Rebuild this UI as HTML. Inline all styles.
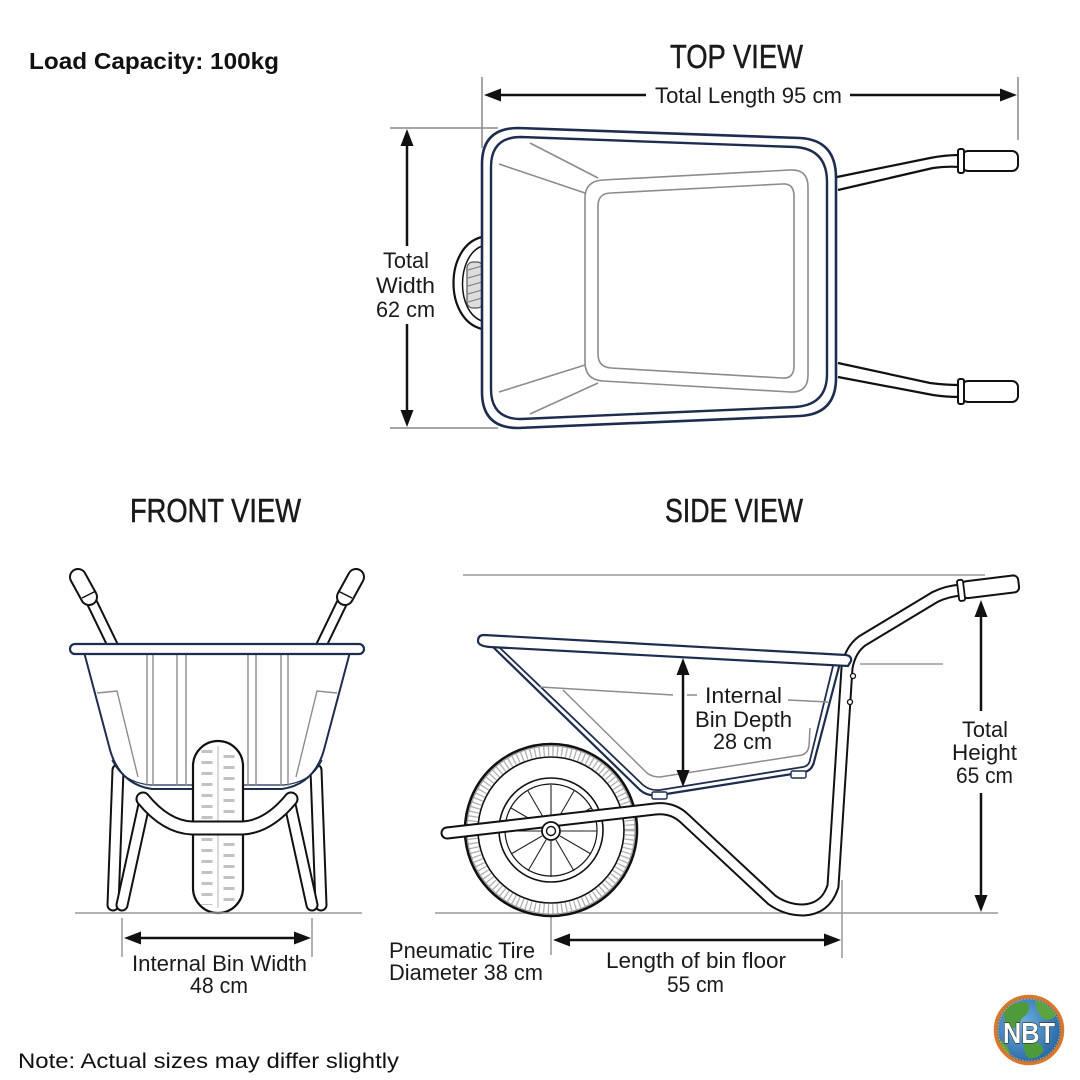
<!DOCTYPE html>
<html><head><meta charset="utf-8"><style>
html,body{margin:0;padding:0;background:#fff;}
svg{display:block;}
.lbl{font-family:"Liberation Sans Narrow","Liberation Sans",sans-serif;font-size:22px;fill:#1a1a1a;}
.ttl{font-family:"Liberation Sans Narrow","Liberation Sans",sans-serif;font-size:33px;fill:#1a1a1a;stroke:#1a1a1a;stroke-width:0.5;}
</style></head><body>
<svg width="1080" height="1080" viewBox="0 0 1080 1080" xmlns="http://www.w3.org/2000/svg">
<rect width="1080" height="1080" fill="#fff"/>
<defs>
<radialGradient id="gl" cx="0.4" cy="0.4" r="0.7"><stop offset="0" stop-color="#6fb0e0"/><stop offset="1" stop-color="#1d5f9e"/></radialGradient>
</defs>

<!-- ===== Top texts ===== -->
<text x="29" y="69" font-family="'Liberation Sans',sans-serif" font-weight="bold" font-size="23" fill="#111" textLength="250" lengthAdjust="spacingAndGlyphs">Load Capacity: 100kg</text>
<text x="18" y="1068" font-family="'Liberation Sans',sans-serif" font-size="21" fill="#111" textLength="381" lengthAdjust="spacingAndGlyphs">Note: Actual sizes may differ slightly</text>

<!-- ===== TOP VIEW ===== -->
<text class="ttl" x="670" y="68" textLength="133" lengthAdjust="spacingAndGlyphs">TOP VIEW</text>
<g stroke="#888" stroke-width="1.5">
<line x1="482" y1="77" x2="482" y2="148"/>
<line x1="1018" y1="77" x2="1018" y2="140"/>
<line x1="390" y1="128" x2="498" y2="128"/>
<line x1="390" y1="428" x2="498" y2="428"/>
</g>
<g stroke="#111" stroke-width="2.5">
<line x1="495" y1="95" x2="646" y2="95"/>
<line x1="850" y1="95" x2="1005" y2="95"/>
<line x1="407" y1="140" x2="407" y2="246"/>
<line x1="407" y1="324" x2="407" y2="416"/>
</g>
<g fill="#111">
<polygon points="484,95 501,88.5 501,101.5"/>
<polygon points="1017,95 1000,88.5 1000,101.5"/>
<polygon points="407,129 400.5,146 413.5,146"/>
<polygon points="407,427 400.5,410 413.5,410"/>
</g>
<text class="lbl" x="655" y="103" textLength="187" lengthAdjust="spacingAndGlyphs">Total Length 95 cm</text>
<text class="lbl" x="383" y="268" textLength="46" lengthAdjust="spacingAndGlyphs">Total</text>
<text class="lbl" x="376" y="293" textLength="59" lengthAdjust="spacingAndGlyphs">Width</text>
<text class="lbl" x="376" y="317" textLength="59" lengthAdjust="spacingAndGlyphs">62 cm</text>

<!-- wheel peeking -->
<path d="M482 237 C 444 246 444 320 482 329" fill="#fff" stroke="#111" stroke-width="2.2"/>
<path d="M482 246 C 456 256 456 312 482 321" fill="none" stroke="#111" stroke-width="1.5"/>
<rect x="467" y="262" width="16" height="46" rx="6" fill="#ddd" stroke="#555" stroke-width="1.2"/>
<g stroke="#777" stroke-width="1">
<line x1="468" y1="270" x2="482" y2="266"/><line x1="468" y1="278" x2="482" y2="274"/>
<line x1="468" y1="286" x2="482" y2="282"/><line x1="468" y1="294" x2="482" y2="290"/>
<line x1="468" y1="302" x2="482" y2="298"/>
</g>

<!-- handles top -->
<g fill="none" stroke="#111" stroke-width="2.2">
<path d="M837 177 L 930 158 Q 945 155 960 155"/>
<path d="M838 190 L 933 168 Q 946 166 960 167"/>
<path d="M838 363 L 930 383 Q 945 385 960 385"/>
<path d="M838 377 L 933 395 Q 946 397 960 397"/>
</g>
<g fill="#fff" stroke="#111" stroke-width="2">
<rect x="962" y="151" width="56" height="20" rx="6"/>
<rect x="958" y="149" width="6" height="24" rx="2"/>
<rect x="962" y="381" width="56" height="21" rx="6"/>
<rect x="958" y="379" width="6" height="25" rx="2"/>
</g>

<!-- bin -->
<path d="M518 128 L 800 138 Q 836 140 836 178 L 836 378 Q 836 414 800 416 L 518 428 Q 482 428 482 392 L 482 164 Q 482 128 518 128 Z" fill="#fff" stroke="#1e2d4f" stroke-width="2.6"/>
<path d="M521 137 L 795 147 Q 827 149 827 182 L 827 374 Q 827 405 795 407 L 521 419 Q 491 419 491 389 L 491 167 Q 491 137 521 137 Z" fill="none" stroke="#1e2d4f" stroke-width="2.4"/>
<g fill="none" stroke="#8c8c8c" stroke-width="1.6">
<path d="M603 180 L 790 170 Q 808 169 808 187 L 808 375 Q 808 393 790 392 L 603 381 Q 585 380 585 362 L 585 198 Q 585 181 603 180 Z"/>
<path d="M611 193 L 782 184 Q 794 183 794 196 L 794 366 Q 794 379 782 378 L 611 368 Q 598 367 598 354 L 598 206 Q 598 193 611 193 Z"/>
<line x1="530" y1="143" x2="598" y2="178"/>
<line x1="499" y1="164" x2="585" y2="193"/>
<line x1="499" y1="392" x2="585" y2="365"/>
<line x1="530" y1="414" x2="598" y2="383"/>
</g>

<!-- ===== FRONT VIEW ===== -->
<text class="ttl" x="130" y="522" textLength="171" lengthAdjust="spacingAndGlyphs">FRONT VIEW</text>
<g fill="none" stroke-linecap="round">
<path d="M82 582 L 113 646" stroke="#111" stroke-width="12"/>
<path d="M82 582 L 113 646" stroke="#fff" stroke-width="8"/>
<path d="M78 577 L 89 597" stroke="#111" stroke-width="18"/>
<path d="M78 577 L 89 597" stroke="#fff" stroke-width="14"/>
<path d="M352 582 L 321 646" stroke="#111" stroke-width="12"/>
<path d="M352 582 L 321 646" stroke="#fff" stroke-width="8"/>
<path d="M356 577 L 345 597" stroke="#111" stroke-width="18"/>
<path d="M356 577 L 345 597" stroke="#fff" stroke-width="14"/>
</g>
<g stroke="#111" stroke-width="1.5"><line x1="82" y1="598" x2="96" y2="591"/><line x1="352" y1="598" x2="338" y2="591"/></g>
<g fill="none" stroke-linecap="round">
<path d="M118 770 L 113 905" stroke="#111" stroke-width="13"/>
<path d="M118 770 L 113 905" stroke="#fff" stroke-width="9"/>
<path d="M145 800 L 122 905" stroke="#111" stroke-width="13"/>
<path d="M145 800 L 122 905" stroke="#fff" stroke-width="9"/>
<path d="M316 770 L 321 905" stroke="#111" stroke-width="13"/>
<path d="M316 770 L 321 905" stroke="#fff" stroke-width="9"/>
<path d="M289 800 L 312 905" stroke="#111" stroke-width="13"/>
<path d="M289 800 L 312 905" stroke="#fff" stroke-width="9"/>
</g>
<path d="M84 652 L 109 746 Q 118 784 152 789 L 282 789 Q 316 784 325 746 L 350 652 Z" fill="#fff" stroke="#1e2d4f" stroke-width="2"/>
<path d="M112 760 Q 122 782 150 785 L 284 785 Q 312 782 322 760" fill="none" stroke="#1e2d4f" stroke-width="1.2"/>
<g stroke="#8c8c8c" stroke-width="1.4" fill="none">
<line x1="147" y1="654" x2="147" y2="786"/><line x1="153" y1="654" x2="153" y2="786"/>
<line x1="177" y1="654" x2="177" y2="786"/><line x1="186" y1="654" x2="186" y2="786"/>
<line x1="248" y1="654" x2="248" y2="786"/><line x1="256" y1="654" x2="256" y2="786"/>
<line x1="281" y1="654" x2="281" y2="786"/><line x1="288" y1="654" x2="288" y2="786"/>
<path d="M97 693 L 117 691 L 138 777"/>
<path d="M337 693 L 317 691 L 296 777"/>
</g>
<rect x="193" y="741" width="50" height="172" rx="25" fill="#fff" stroke="#111" stroke-width="2.2"/>
<g stroke="#c2c2c2" fill="none">
<line x1="207" y1="750" x2="207" y2="905" stroke-width="11" stroke-dasharray="3 8"/>
<line x1="229" y1="755" x2="229" y2="905" stroke-width="11" stroke-dasharray="3 8"/>
<line x1="218" y1="746" x2="218" y2="908" stroke-width="1.2"/>
</g>
<g fill="none" stroke-linecap="round">
<path d="M143 799 Q 166 827 192 828 L 242 828 Q 268 827 291 799" stroke="#111" stroke-width="15"/>
<path d="M143 799 Q 166 827 192 828 L 242 828 Q 268 827 291 799" stroke="#fff" stroke-width="11"/>
</g>
<rect x="70" y="644" width="294" height="10" rx="5" fill="#fff" stroke="#1e2d4f" stroke-width="2.2"/>
<line x1="75" y1="913" x2="362" y2="913" stroke="#999" stroke-width="1.5"/>
<g stroke="#999" stroke-width="1.5"><line x1="122" y1="918" x2="122" y2="957"/><line x1="312" y1="918" x2="312" y2="957"/></g>
<line x1="136" y1="938" x2="298" y2="938" stroke="#111" stroke-width="2.5"/>
<polygon points="124,938 141,931.5 141,944.5" fill="#111"/>
<polygon points="311,938 294,931.5 294,944.5" fill="#111"/>
<text class="lbl" x="132" y="971" textLength="175" lengthAdjust="spacingAndGlyphs">Internal Bin Width</text>
<text class="lbl" x="190" y="993" textLength="58" lengthAdjust="spacingAndGlyphs">48 cm</text>

<!-- ===== SIDE VIEW ===== -->
<text class="ttl" x="665" y="522" textLength="138" lengthAdjust="spacingAndGlyphs">SIDE VIEW</text>
<g stroke="#999" stroke-width="1.5">
<line x1="463" y1="575" x2="985" y2="575"/>
<line x1="860" y1="664" x2="943" y2="664"/>
<line x1="435" y1="913" x2="998" y2="913"/>
<line x1="551" y1="888" x2="551" y2="955"/>
<line x1="842" y1="880" x2="842" y2="958"/>
</g>
<circle cx="551" cy="830" r="86" fill="#fff" stroke="#111" stroke-width="2.6"/>
<circle cx="551" cy="830" r="79" fill="none" stroke="#b0b0b0" stroke-width="10" stroke-dasharray="1.3 3.2"/>
<circle cx="551" cy="830" r="84" fill="none" stroke="#999" stroke-width="1"/>
<circle cx="551" cy="830" r="73" fill="none" stroke="#111" stroke-width="1.6"/>
<circle cx="551" cy="830" r="52" fill="none" stroke="#111" stroke-width="1.6"/>
<circle cx="551" cy="830" r="46" fill="none" stroke="#111" stroke-width="1.2"/>
<g stroke="#222" stroke-width="1.1">
<line x1="561" y1="831" x2="597" y2="831"/><line x1="560" y1="836" x2="591" y2="854"/>
<line x1="556" y1="840" x2="574" y2="871"/><line x1="551" y1="841" x2="551" y2="877"/>
<line x1="546" y1="840" x2="528" y2="871"/><line x1="542" y1="836" x2="511" y2="854"/>
<line x1="541" y1="831" x2="505" y2="831"/><line x1="542" y1="826" x2="511" y2="808"/>
<line x1="546" y1="822" x2="528" y2="791"/><line x1="551" y1="821" x2="551" y2="785"/>
<line x1="556" y1="822" x2="574" y2="791"/><line x1="560" y1="826" x2="591" y2="808"/>
</g>
<g fill="none" stroke-linecap="round" stroke-linejoin="round">
<path d="M447 833 L 655 809 Q 672 807 684 818 L 772 900 Q 786 910 803 910 Q 826 909 833 886 L 847 668 Q 850 650 862 641 L 935 597 Q 947 591 962 590" stroke="#111" stroke-width="13"/>
<path d="M447 833 L 655 809 Q 672 807 684 818 L 772 900 Q 786 910 803 910 Q 826 909 833 886 L 847 668 Q 850 650 862 641 L 935 597 Q 947 591 962 590" stroke="#fff" stroke-width="9"/>
</g>
<circle cx="551" cy="831" r="9" fill="#fff" stroke="#111" stroke-width="1.8"/>
<circle cx="551" cy="831" r="4.5" fill="#fff" stroke="#111" stroke-width="1.4"/>
<g transform="rotate(-7 960 590)">
<rect x="962" y="582" width="57" height="17" rx="5" fill="#fff" stroke="#111" stroke-width="2"/>
<rect x="958" y="580" width="6" height="21" rx="2" fill="#fff" stroke="#111" stroke-width="1.8"/>
</g>
<circle cx="853" cy="676" r="2.5" fill="#fff" stroke="#111" stroke-width="1.3"/>
<circle cx="850" cy="702" r="2.5" fill="#fff" stroke="#111" stroke-width="1.3"/>
<path d="M493 647 L 640 790 Q 648 797 660 795 L 805 772 Q 812 770 814 762 L 840 663" fill="#fff" stroke="#1e2d4f" stroke-width="2.2"/>
<path d="M499 647 L 643 785 Q 650 791 660 790 L 803 767 Q 809 766 810 760 L 834 662" fill="none" stroke="#1e2d4f" stroke-width="1.8"/>
<g fill="none" stroke="#8c8c8c" stroke-width="1.5">
<path d="M540 687 L 673 695"/>
<path d="M687 695 L 697 695"/>
<path d="M788 700 L 828 702"/>
<path d="M563 690 L 647 773 Q 652 777 660 777 L 802 755 Q 808 753 809 746 L 810 728"/>
</g>
<g fill="#fff" stroke="#1e2d4f" stroke-width="1.4">
<rect x="652" y="792" width="15" height="7" rx="1.5"/>
<rect x="791" y="771" width="15" height="7" rx="1.5"/>
</g>
<path d="M484 635 L 846 655 Q 852 656 851 661 L 848 666 L 490 647 Q 478 646 478 641 Q 478 635 484 635 Z" fill="#fff" stroke="#1e2d4f" stroke-width="2.2"/>
<line x1="683" y1="672" x2="683" y2="773" stroke="#111" stroke-width="2.5"/>
<polygon points="683,658 676.5,675 689.5,675" fill="#111"/>
<polygon points="683,787 676.5,770 689.5,770" fill="#111"/>
<text class="lbl" x="705" y="703" textLength="77" lengthAdjust="spacingAndGlyphs">Internal</text>
<text class="lbl" x="695" y="727" textLength="97" lengthAdjust="spacingAndGlyphs">Bin Depth</text>
<text class="lbl" x="713" y="749" textLength="59" lengthAdjust="spacingAndGlyphs">28 cm</text>
<g stroke="#111" stroke-width="2.5"><line x1="981" y1="614" x2="981" y2="711"/><line x1="981" y1="793" x2="981" y2="899"/></g>
<polygon points="981,600 974.5,617 987.5,617" fill="#111"/>
<polygon points="981,912 974.5,895 987.5,895" fill="#111"/>
<text class="lbl" x="962" y="737" textLength="46" lengthAdjust="spacingAndGlyphs">Total</text>
<text class="lbl" x="952" y="760" textLength="65" lengthAdjust="spacingAndGlyphs">Height</text>
<text class="lbl" x="956" y="783" textLength="57" lengthAdjust="spacingAndGlyphs">65 cm</text>
<line x1="566" y1="940" x2="828" y2="940" stroke="#111" stroke-width="2.5"/>
<polygon points="553,940 570,933.5 570,946.5" fill="#111"/>
<polygon points="841,940 824,933.5 824,946.5" fill="#111"/>
<text class="lbl" x="606" y="968" textLength="180" lengthAdjust="spacingAndGlyphs">Length of bin floor</text>
<text class="lbl" x="667" y="992" textLength="57" lengthAdjust="spacingAndGlyphs">55 cm</text>
<text class="lbl" x="389" y="958" textLength="146" lengthAdjust="spacingAndGlyphs">Pneumatic Tire</text>
<text class="lbl" x="389" y="980" textLength="154" lengthAdjust="spacingAndGlyphs">Diameter 38 cm</text>

<!-- ===== NBT logo ===== -->
<circle cx="1029" cy="1030" r="33" fill="url(#gl)"/>
<path d="M1005 1010 Q 1015 1000 1028 1003 Q 1032 1012 1022 1018 Q 1018 1030 1010 1028 Q 1002 1022 1005 1010 Z" fill="#4f9a3a"/>
<path d="M1035 1000 Q 1050 1004 1056 1016 Q 1050 1022 1042 1018 Q 1036 1010 1035 1000 Z" fill="#5aa540"/>
<path d="M1025 1040 Q 1038 1038 1044 1050 Q 1038 1060 1028 1058 Q 1022 1050 1025 1040 Z" fill="#4f9a3a"/>
<path d="M1000 1040 Q 1008 1044 1010 1054 Q 1004 1056 999 1048 Z" fill="#5aa540"/>
<circle cx="1029" cy="1030" r="33.5" fill="none" stroke="#d9772b" stroke-width="3.5"/>
<circle cx="1029" cy="1030" r="31" fill="none" stroke="#f0a050" stroke-width="1" stroke-dasharray="1.5 1.5"/>
<text x="1029" y="1043" text-anchor="middle" font-family="'Liberation Sans',sans-serif" font-weight="bold" font-size="29" fill="#fff" stroke="#2a2a2a" stroke-width="1.2" paint-order="stroke" textLength="52" lengthAdjust="spacingAndGlyphs">NBT</text>
</svg>
</body></html>
